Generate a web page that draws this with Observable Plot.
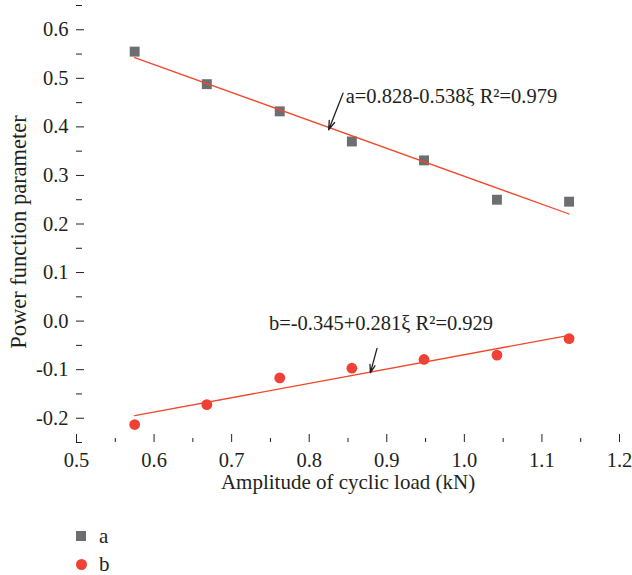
<!DOCTYPE html>
<html>
<head>
<meta charset="utf-8">
<script src="https://cdn.jsdelivr.net/npm/d3@7"></script>
<script src="https://cdn.jsdelivr.net/npm/@observablehq/plot@0.6"></script>
<style>
  body { margin: 0; background: #fff; }
  #wrap { position: relative; width: 632px; height: 575px; font-family: "Liberation Serif", "DejaVu Serif", serif; color: #231f20; }
  #legend { position: absolute; left: 0; top: 500px; width: 632px; height: 75px; }
  .item { position: absolute; left: 0; height: 24px; font-size: 21px; line-height: 24px; }
  .item .sw { position: absolute; }
  .item .lab { position: absolute; left: 99px; top: 0; }
  .sq { left: 76px; top: 7px; width: 10px; height: 10px; background: #6d6e72; }
  .ci { left: 75.5px; top: 6.5px; width: 11px; height: 11px; border-radius: 50%; background: #ef4136; }
</style>
</head>
<body>
<div id="wrap">
  <div id="chart"></div>
  <div id="legend"></div>
</div>
<script>
// Amplitude of cyclic load (kN) for each test
const amplitude = [0.575, 0.668, 0.762, 0.855, 0.948, 1.042, 1.135];
// Power function parameters a and b
const paramA = [0.555, 0.488, 0.432, 0.370, 0.331, 0.250, 0.246];
const paramB = [-0.213, -0.172, -0.117, -0.097, -0.079, -0.070, -0.036];

// Axis ticks
const xTicks = [0.5, 0.6, 0.7, 0.8, 0.9, 1.0, 1.1, 1.2];
const xMinorTicks = [0.55, 0.65, 0.75, 0.85, 0.95, 1.05, 1.15];
const yTicks = [-0.2, -0.1, 0.0, 0.1, 0.2, 0.3, 0.4, 0.5, 0.6];
const yMinorTicks = [-0.25, -0.15, -0.05, 0.05, 0.15, 0.25, 0.35, 0.45, 0.55, 0.65];

// Fit equations and where they are written
const fitText = ["a=0.828-0.538ξ R²=0.979", "b=-0.345+0.281ξ R²=0.929"];
const fitTextX = [0.847, 0.748];
const fitTextY = [0.449, -0.019];
// Pointer arrows from each equation to its fitted line
const arrowX1 = [0.8436, 0.8874];
const arrowY1 = [0.4695, -0.0563];
const arrowX2 = [0.8250, 0.8788];
const arrowY2 = [0.3938, -0.1066];

const seriesNames = ["a", "b"];

const rowsA = amplitude.map((x, i) => ({x, y: paramA[i]}));
const rowsB = amplitude.map((x, i) => ({x, y: paramB[i]}));
const notes = fitText.map((t, i) => ({t, x: fitTextX[i], y: fitTextY[i]}));
const arrows = arrowX1.map((x1, i) => ({x1, y1: arrowY1[i], x2: arrowX2[i], y2: arrowY2[i]}));

const ink = "#231f20";
const fitColor = "#f1472a";
const fmt = d => d.toFixed(1);

const chart = Plot.plot({
  width: 632,
  height: 500,
  marginLeft: 76,
  marginRight: 13,
  marginTop: 5,
  marginBottom: 58,
  style: { fontFamily: "'Liberation Serif', 'DejaVu Serif', serif", fontSize: "20px", color: ink, background: "#fff" },
  x: { domain: [0.5, 1.2], label: null },
  y: { domain: [-0.25, 0.65], label: null },
  marks: [
    // minor ticks, pointing into the plot
    Plot.axisX(xMinorTicks, { tickSize: -4, fill: "none", stroke: ink, label: null }),
    Plot.axisY(yMinorTicks, { tickSize: -6, fill: "none", stroke: ink, label: null }),
    // major ticks with the axis lines
    Plot.axisX(xTicks, { tickSize: -8, fill: "none", stroke: ink, label: null, line: true }),
    Plot.axisY(yTicks, { tickSize: -8, fill: "none", stroke: ink, label: null, line: true }),
    // tick labels
    Plot.axisX(xTicks, { tickSize: 0, tickPadding: 10, tickFormat: fmt, fill: ink, fontSize: 20.5, label: null }),
    Plot.axisY(yTicks, { tickSize: 0, tickPadding: 8, tickFormat: fmt, fill: ink, fontSize: 20.5, label: null }),
    // axis titles
    Plot.text(["Amplitude of cyclic load (kN)"], { frameAnchor: "bottom", textAnchor: "middle", dy: 46, lineAnchor: "bottom", fontSize: 21, fill: ink }),
    Plot.text(["Power function parameter"], { frameAnchor: "left", textAnchor: "middle", rotate: -90, dx: -51, dy: 8, lineAnchor: "bottom", fontSize: 22.5, fill: ink }),
    // measured points
    Plot.dot(rowsA, { x: "x", y: "y", symbol: "square", r: 5.6, fill: "#6d6e72" }),
    Plot.dot(rowsB, { x: "x", y: "y", symbol: "circle", r: 5.4, fill: "#ef4136" }),
    // least-squares fits
    Plot.linearRegressionY(rowsA, { x: "x", y: "y", ci: 0, stroke: fitColor, strokeWidth: 1.3 }),
    Plot.linearRegressionY(rowsB, { x: "x", y: "y", ci: 0, stroke: fitColor, strokeWidth: 1.3 }),
    // equation labels and pointers
    Plot.text(notes, { x: "x", y: "y", text: "t", textAnchor: "start", lineAnchor: "bottom", fontSize: 20.5, fill: ink }),
    Plot.arrow(arrows, { x1: "x1", y1: "y1", x2: "x2", y2: "y2", stroke: ink, strokeWidth: 1.3, headLength: 11, headAngle: 35 })
  ]
});
document.getElementById("chart").appendChild(chart);

// legend below the chart
const legend = document.getElementById("legend");
const rowTops = [24, 52];
seriesNames.forEach((name, i) => {
  const item = document.createElement("div");
  item.className = "item";
  item.style.top = rowTops[i] + "px";
  const sw = document.createElement("span");
  sw.className = "sw " + (i === 0 ? "sq" : "ci");
  const lab = document.createElement("span");
  lab.className = "lab";
  lab.textContent = name;
  item.appendChild(sw);
  item.appendChild(lab);
  legend.appendChild(item);
});
</script>
</body>
</html>
